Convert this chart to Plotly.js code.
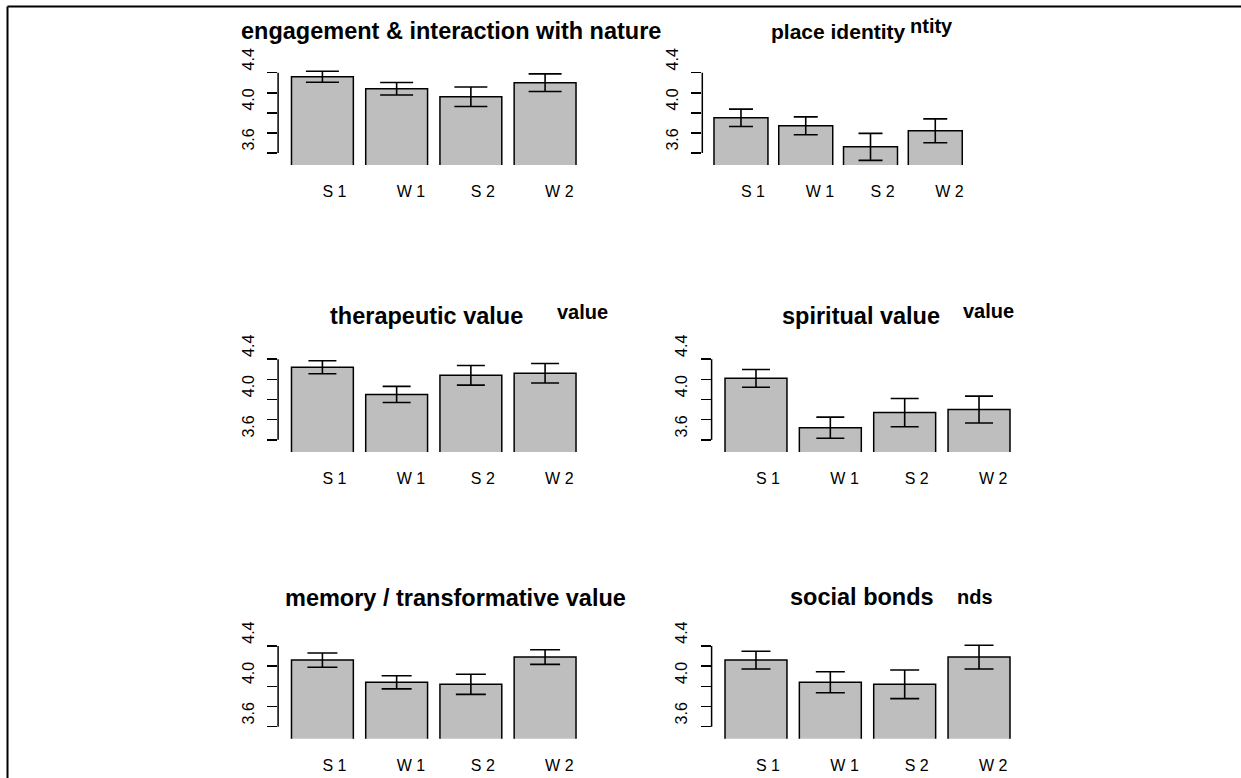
<!DOCTYPE html>
<html>
<head>
<meta charset="utf-8">
<script src="https://cdn.plot.ly/plotly-3.0.1.min.js"></script>
<style>html,body{margin:0;padding:0;background:#fff;}#chart{width:1241px;height:778px;}</style>
</head>
<body>
<div id="chart"></div>
<script>
// ---- data ----
const categories = ['S 1', 'W 1', 'S 2', 'W 2'];
const yTickValues = [3.6, 3.8, 4.0, 4.2, 4.4];
const yTickLabels = ['3.6', '', '4.0', '', '4.4'];

const panelTitles = [
  'engagement & interaction with nature',
  'place identity',
  'therapeutic value',
  'spiritual value',
  'memory / transformative value',
  'social bonds'
];
const ghostTitleFragments = ['', 'ntity', 'value', 'value', '', 'nds'];

const engagementMean = [4.36, 4.24, 4.16, 4.30];
const engagementErr  = [0.055, 0.063, 0.097, 0.088];
const placeIdentityMean = [3.95, 3.87, 3.66, 3.82];
const placeIdentityErr  = [0.087, 0.089, 0.135, 0.119];
const therapeuticMean = [4.32, 4.05, 4.24, 4.26];
const therapeuticErr  = [0.065, 0.080, 0.097, 0.097];
const spiritualMean = [4.21, 3.72, 3.87, 3.90];
const spiritualErr  = [0.088, 0.105, 0.140, 0.133];
const memoryMean = [4.26, 4.04, 4.02, 4.29];
const memoryErr  = [0.071, 0.065, 0.100, 0.072];
const socialMean = [4.26, 4.04, 4.02, 4.29];
const socialErr  = [0.088, 0.104, 0.142, 0.118];

const means = [engagementMean, placeIdentityMean, therapeuticMean, spiritualMean, memoryMean, socialMean];
const errs  = [engagementErr, placeIdentityErr, therapeuticErr, spiritualErr, memoryErr, socialErr];

// ---- layout (pixel geometry of the reference) ----
const W = 1241, H = 778;
const px = v => v / W;
const py = v => 1 - v / H;

// x domains in pixels [left, right]
const xDomPx = [[278.1, 587.4], [702.3, 972.2], [278.1, 587.4], [711.6, 1021.4], [278.1, 587.4], [711.6, 1021.4]];
// y domains in pixels [top(4.5), bottom(3.48)]
const yDomPx = [[62.7, 164.9], [62.7, 164.9], [349.1, 451.9], [349.1, 451.9], [635.9, 738.8], [635.9, 738.8]];
const capHalf = [16.5, 12, 14, 14, 15, 14.5];
// titles: [centre x, centre y, font size]
const titlePos = [[451.4, 31.5, 23.5], [838, 32, 21], [426.5, 316.3, 23.5], [860.8, 316.3, 23.5], [455, 598, 23.5], [861.7, 597.3, 23.5]];
// ghost fragments: [right x, centre y]
const ghostPos = [null, [955, 25.7], [610, 312.3], [1016, 311.3], null, [995, 597.3]];

const traces = [];
const layout = {
  width: W, height: H,
  margin: {l: 0, r: 0, t: 0, b: 0, pad: 0},
  paper_bgcolor: '#ffffff',
  plot_bgcolor: 'rgba(0,0,0,0)',
  showlegend: false,
  bargap: 1 - 1 / 1.2,
  font: {family: 'Liberation Sans, Arial, sans-serif', color: '#000000'},
  shapes: [],
  annotations: []
};

for (let i = 0; i < 6; i++) {
  const n = i === 0 ? '' : String(i + 1);
  traces.push({
    type: 'bar',
    x: categories,
    y: means[i],
    xaxis: 'x' + n,
    yaxis: 'y' + n,
    marker: {color: '#bebebe', line: {color: '#000000', width: 1.5}},
    error_y: {type: 'data', array: errs[i], visible: true, color: '#000000', thickness: 1.6, width: capHalf[i]},
    hoverinfo: 'skip'
  });
  layout['xaxis' + n] = {
    domain: [px(xDomPx[i][0]), px(xDomPx[i][1])],
    anchor: 'y' + n,
    type: 'category',
    categoryorder: 'array',
    categoryarray: categories,
    range: [-0.597, 3.57],
    showgrid: false, zeroline: false, showline: false,
    ticks: '',
    ticklabelposition: 'outside right',
    ticklabelstandoff: 15,
    tickfont: {size: 16, color: '#000000'},
    fixedrange: true
  };
  layout['yaxis' + n] = {
    domain: [py(yDomPx[i][1]), py(yDomPx[i][0])],
    anchor: 'x' + n,
    range: [3.48, 4.5],
    showgrid: false, zeroline: false, showline: false,
    tickmode: 'array',
    tickvals: yTickValues,
    ticktext: yTickLabels,
    ticks: 'outside', ticklen: 10, tickwidth: 1.5, tickcolor: '#000000',
    tickangle: -90,
    ticklabelshift: -11,
    ticklabelstandoff: 7,
    tickfont: {size: 16, color: '#000000'},
    fixedrange: true
  };
  layout.shapes.push({
    type: 'line', xref: 'x' + n + ' domain', yref: 'y' + n,
    x0: 0, x1: 0, y0: yTickValues[0], y1: yTickValues[yTickValues.length - 1],
    line: {color: '#000000', width: 1.5}
  });
  layout.annotations.push({
    text: '<b>' + panelTitles[i] + '</b>',
    xref: 'paper', yref: 'paper',
    x: px(titlePos[i][0]), y: py(titlePos[i][1]),
    xanchor: 'center', yanchor: 'middle',
    showarrow: false,
    font: {size: titlePos[i][2], color: '#000000'}
  });
  if (ghostPos[i]) {
    layout.annotations.push({
      text: '<b>' + ghostTitleFragments[i] + '</b>',
      xref: 'paper', yref: 'paper',
      x: px(ghostPos[i][0]), y: py(ghostPos[i][1]),
      xanchor: 'right', yanchor: 'middle',
      showarrow: false,
      font: {size: 20, color: '#000000'}
    });
  }
}

// outer frame (top and left edges visible)
layout.shapes.push({type: 'line', xref: 'paper', yref: 'paper', x0: px(7.5), x1: 1.01, y0: py(6.5), y1: py(6.5), line: {color: '#000000', width: 2}});
layout.shapes.push({type: 'line', xref: 'paper', yref: 'paper', x0: px(7.5), x1: px(7.5), y0: py(6.5), y1: -0.01, line: {color: '#000000', width: 2}});

Plotly.newPlot('chart', traces, layout, {displayModeBar: false, staticPlot: true});
</script>
</body>
</html>
